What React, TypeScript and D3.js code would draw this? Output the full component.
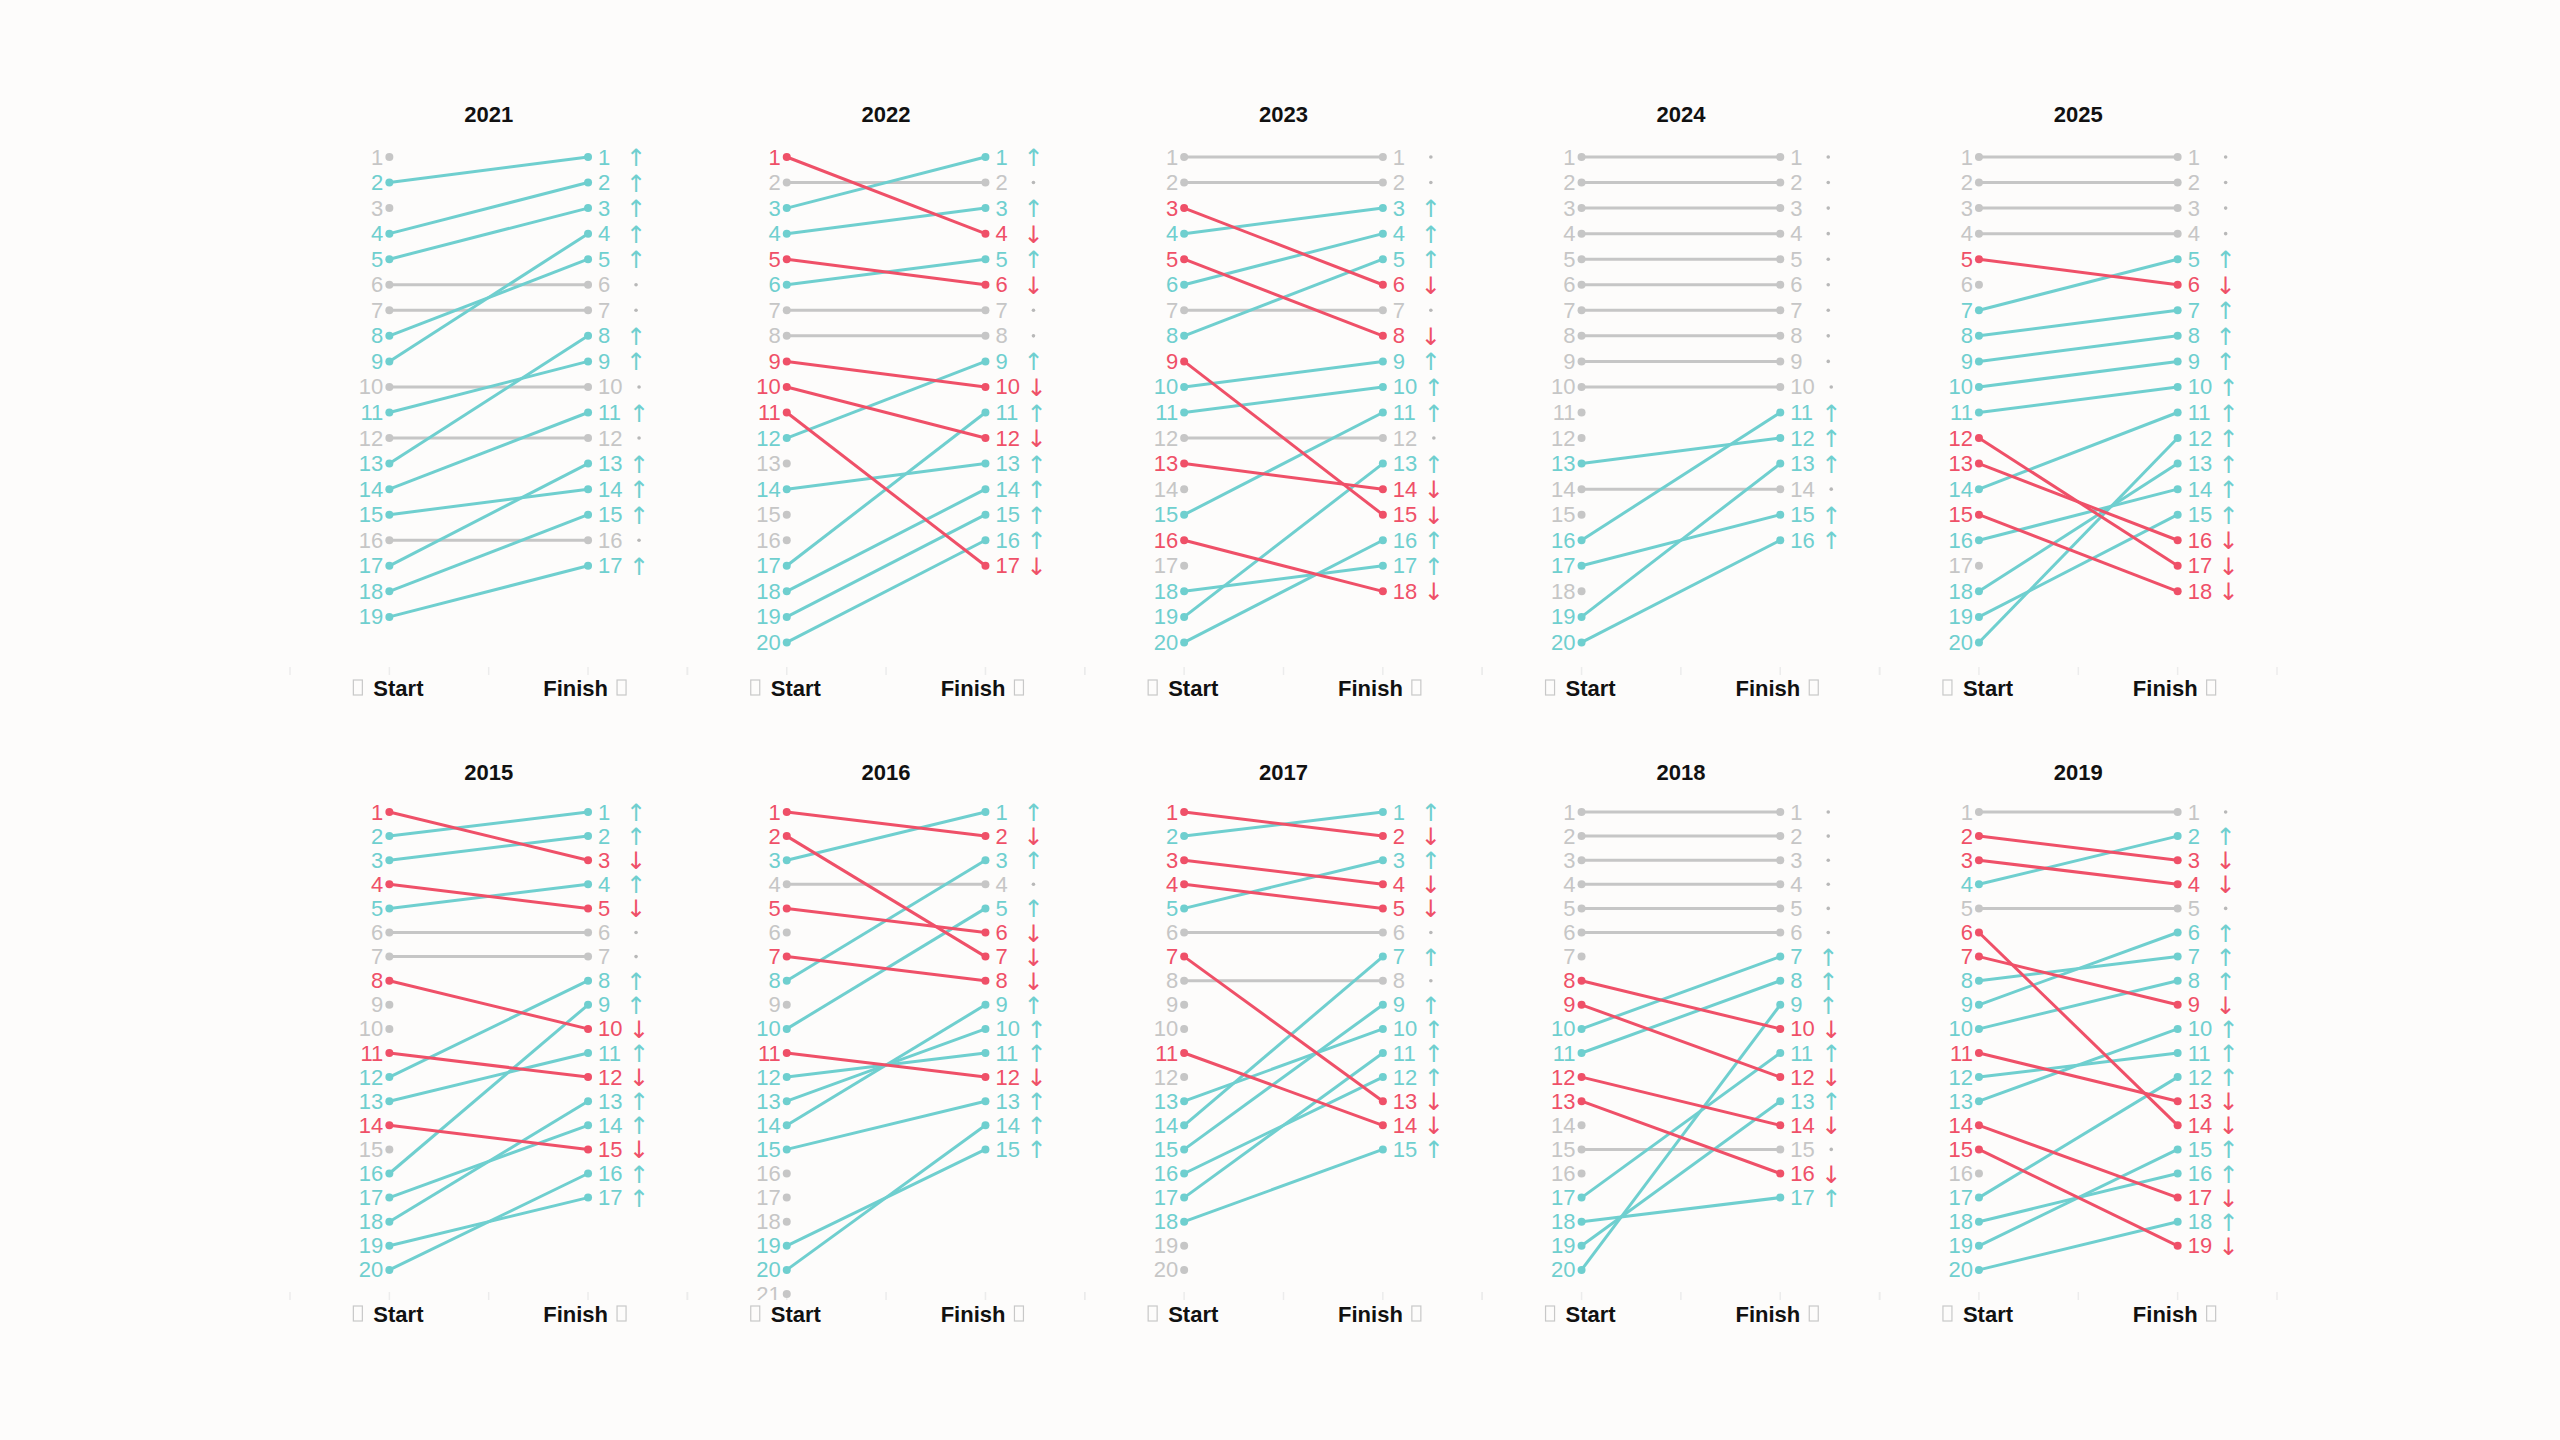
import * as d3 from 'd3'
import React, { useRef, useEffect } from 'react'

// finish position for each starting position (index 0 = started 1st), null = did not finish
const topYears = ['2021', '2022', '2023', '2024', '2025']
const bottomYears = ['2015', '2016', '2017', '2018', '2019']

const finish2021 = [null, 1, null, 2, 3, 6, 7, 5, 4, 10, 9, 12, 8, 11, 14, 16, 13, 15, 17]
const finish2022 = [4, 2, 1, 3, 6, 5, 7, 8, 10, 12, 17, 9, null, 13, null, null, 11, 14, 15, 16]
const finish2023 = [1, 2, 6, 3, 8, 4, 7, 5, 15, 9, 10, 12, 14, null, 11, 18, null, 17, 13, 16]
const finish2024 = [1, 2, 3, 4, 5, 6, 7, 8, 9, 10, null, null, 12, 14, null, 11, 15, null, 13, 16]
const finish2025 = [1, 2, 3, 4, 6, null, 5, 7, 8, 9, 10, 17, 16, 11, 18, 14, null, 13, 15, 12]
const finish2015 = [3, 1, 2, 5, 4, 6, 7, 10, null, null, 12, 8, 11, 15, null, 9, 14, 13, 17, 16]
const finish2016 = [2, 7, 1, 4, 6, null, 8, 3, null, 5, 12, 11, 10, 9, 13, null, null, null, 15, 14, null]
const finish2017 = [2, 1, 4, 5, 3, 6, 13, 8, null, null, 14, null, 10, 7, 9, 12, 11, 15, null, null]
const finish2018 = [1, 2, 3, 4, 5, 6, null, 10, 12, 7, 8, 14, 16, null, 15, null, 11, 17, 13, 9]
const finish2019 = [1, 3, 4, 2, 5, 14, 9, 7, 6, 8, 13, 11, 10, 17, 19, null, 12, 16, 15, 18]

const finishByYear: Record<string, (number | null)[]> = {
  '2015': finish2015,
  '2016': finish2016,
  '2017': finish2017,
  '2018': finish2018,
  '2019': finish2019,
  '2021': finish2021,
  '2022': finish2022,
  '2023': finish2023,
  '2024': finish2024,
  '2025': finish2025,
}

const axisLabels = ['Start', 'Finish']

const UP = '#6fcfcf'
const DOWN = '#ef5068'
const SAME = '#c6c6c6'
const FONT = "'Liberation Sans', Arial, sans-serif"

const App = () => {
  const ref = useRef(null)

  useEffect(() => {
    draw()
  }, [])

  const draw = () => {
    const svg = d3.select(ref.current)
    svg.selectAll('*').remove()

    const panelWidth = 397.4
    const gridLeft = 290

    const rows = [
      { years: topYears, top: 157, step: 25.55, title: 114, axis: 673, footer: 688 },
      { years: bottomYears, top: 812, step: 24.1, title: 772, axis: 1298, footer: 1314 },
    ]

    const defs = svg.append('defs')

    rows.forEach((row, ri) => {
      const yScale = d3
        .scaleLinear()
        .domain([1, 21])
        .range([row.top, row.top + 20 * row.step])

      defs
        .append('clipPath')
        .attr('id', 'clip-row-' + ri)
        .append('rect')
        .attr('x', 0)
        .attr('y', row.top - 40)
        .attr('width', 2560)
        .attr('height', row.axis + 2 - (row.top - 40))

      row.years.forEach((year, pi) => {
        const left = gridLeft + pi * panelWidth
        const xScale = d3.scaleLinear().domain([0, 4]).range([left, left + panelWidth])
        const xStart = xScale(1)
        const xFinish = xScale(3)

        const entries = finishByYear[year].map((f, i) => {
          const s = i + 1
          let color = SAME
          let arrow = ''
          if (f !== null && f < s) {
            color = UP
            arrow = '↑'
          } else if (f !== null && f > s) {
            color = DOWN
            arrow = '↓'
          }
          return { start: s, finish: f, color, arrow, rank: color === SAME ? 0 : color === UP ? 1 : 2 }
        })

        const g = svg.append('g')

        // faint x ticks
        g.selectAll('.tick')
          .data(d3.range(0, 5))
          .enter()
          .append('line')
          .attr('x1', (d) => xScale(d))
          .attr('x2', (d) => xScale(d))
          .attr('y1', row.axis - 6)
          .attr('y2', row.axis + 2)
          .attr('stroke', '#ececec')
          .attr('stroke-width', 1.5)

        // title
        g.append('text')
          .attr('x', xScale(2))
          .attr('y', row.title)
          .attr('text-anchor', 'middle')
          .attr('dominant-baseline', 'central')
          .style('font-family', FONT)
          .style('font-weight', 'bold')
          .style('font-size', '22px')
          .attr('fill', '#111')
          .text(year)

        const plot = g.append('g').attr('clip-path', 'url(#clip-row-' + ri + ')')

        const finished = entries.filter((d) => d.finish !== null).sort((a, b) => a.rank - b.rank)

        plot
          .selectAll('.slope')
          .data(finished)
          .enter()
          .append('line')
          .attr('x1', xStart)
          .attr('x2', xFinish)
          .attr('y1', (d) => yScale(d.start))
          .attr('y2', (d: any) => yScale(d.finish))
          .attr('stroke', (d) => d.color)
          .attr('stroke-width', 3)

        plot
          .selectAll('.dotStart')
          .data(entries)
          .enter()
          .append('circle')
          .attr('cx', xStart)
          .attr('cy', (d) => yScale(d.start))
          .attr('r', 4)
          .attr('fill', (d) => d.color)

        plot
          .selectAll('.dotFinish')
          .data(finished)
          .enter()
          .append('circle')
          .attr('cx', xFinish)
          .attr('cy', (d: any) => yScale(d.finish))
          .attr('r', 4)
          .attr('fill', (d) => d.color)

        plot
          .selectAll('.labelStart')
          .data(entries)
          .enter()
          .append('text')
          .attr('x', xStart - 6)
          .attr('y', (d) => yScale(d.start))
          .attr('text-anchor', 'end')
          .attr('dominant-baseline', 'central')
          .style('font-family', FONT)
          .style('font-size', '22px')
          .attr('fill', (d) => d.color)
          .text((d) => d.start)

        plot
          .selectAll('.labelFinish')
          .data(finished)
          .enter()
          .append('text')
          .attr('x', xFinish + 10)
          .attr('y', (d: any) => yScale(d.finish))
          .attr('dominant-baseline', 'central')
          .style('font-family', FONT)
          .style('font-size', '22px')
          .attr('fill', (d) => d.color)
          .text((d: any) => d.finish)

        const moved = finished.filter((d) => d.arrow !== '')
        const held = finished.filter((d) => d.arrow === '')

        plot
          .selectAll('.arrow')
          .data(moved)
          .enter()
          .append('text')
          .attr('x', (d: any) => xFinish + (d.finish >= 10 ? 51 : 48))
          .attr('y', (d: any) => yScale(d.finish) + 1)
          .attr('text-anchor', 'middle')
          .attr('dominant-baseline', 'central')
          .style('font-family', "'DejaVu Sans', sans-serif")
          .style('font-size', '24px')
          .attr('fill', (d) => d.color)
          .text((d) => d.arrow)

        // small dot marker for unchanged positions
        plot
          .selectAll('.held')
          .data(held)
          .enter()
          .append('circle')
          .attr('cx', (d: any) => xFinish + (d.finish >= 10 ? 51 : 48))
          .attr('cy', (d: any) => yScale(d.finish))
          .attr('r', 1.8)
          .attr('fill', '#b8b8b8')

        // footer labels with missing-glyph boxes
        g.append('rect')
          .attr('x', xStart - 36)
          .attr('y', row.footer - 8)
          .attr('width', 9)
          .attr('height', 15)
          .attr('fill', 'none')
          .attr('stroke', '#c8c8c8')
          .attr('stroke-width', 1.2)

        g.append('text')
          .attr('x', xStart - 16)
          .attr('y', row.footer)
          .attr('dominant-baseline', 'central')
          .style('font-family', FONT)
          .style('font-weight', 'bold')
          .style('font-size', '22px')
          .attr('fill', '#111')
          .text(axisLabels[0])

        g.append('text')
          .attr('x', xFinish + 20)
          .attr('y', row.footer)
          .attr('text-anchor', 'end')
          .attr('dominant-baseline', 'central')
          .style('font-family', FONT)
          .style('font-weight', 'bold')
          .style('font-size', '22px')
          .attr('fill', '#111')
          .text(axisLabels[1])

        g.append('rect')
          .attr('x', xFinish + 29)
          .attr('y', row.footer - 8)
          .attr('width', 9)
          .attr('height', 15)
          .attr('fill', 'none')
          .attr('stroke', '#c8c8c8')
          .attr('stroke-width', 1.2)
      })
    })
  }

  return (
    <div style={{ position: 'absolute', left: 0, top: 0, width: 2560, height: 1440, background: '#fdfcfb' }}>
      <svg ref={ref} width={2560} height={1440} style={{ display: 'block' }} />
    </div>
  )
}

export default App
